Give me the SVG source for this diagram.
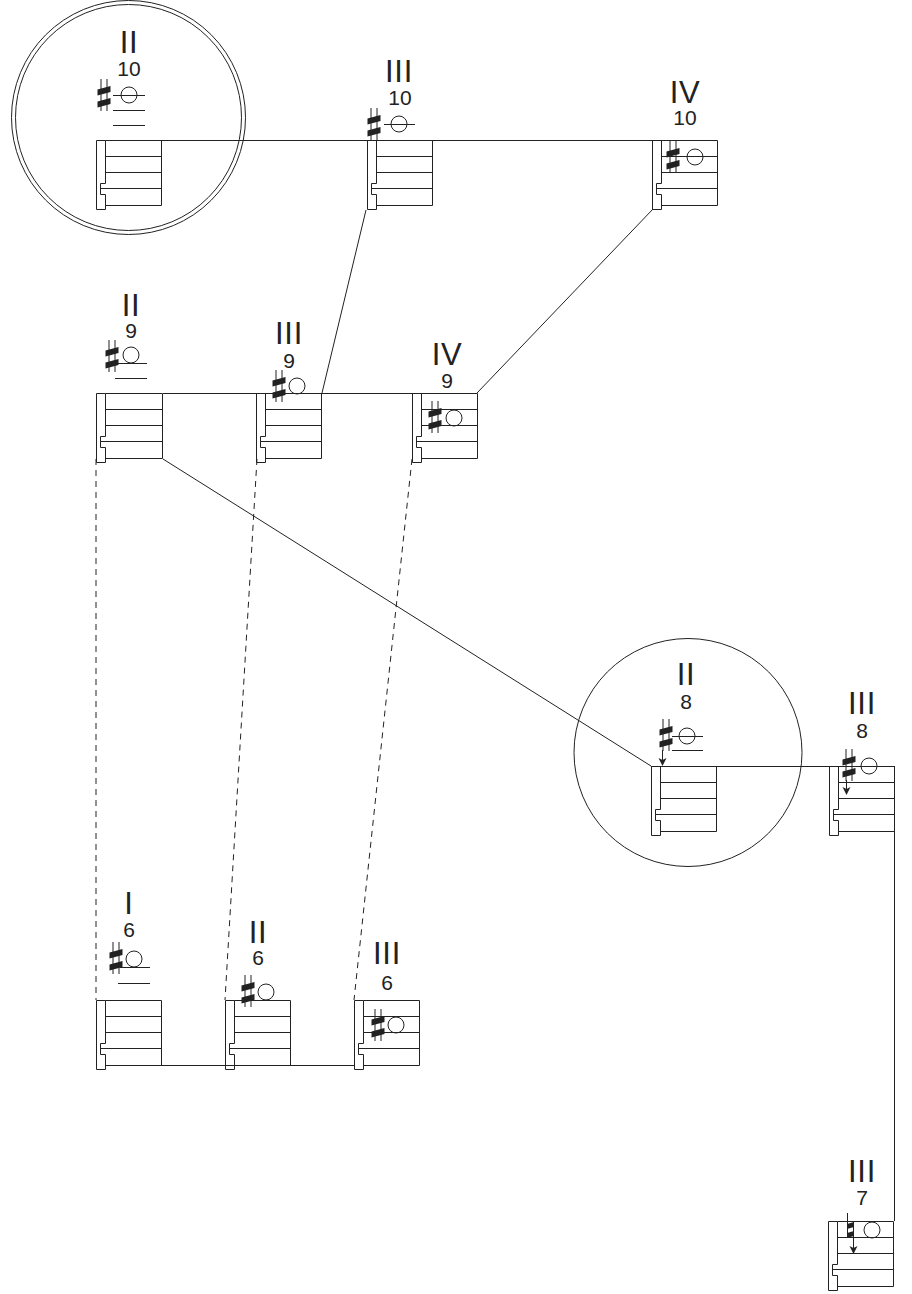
<svg xmlns="http://www.w3.org/2000/svg" width="912" height="1294" viewBox="0 0 912 1294">
<style>
.l{fill:none;stroke:#222;stroke-width:1}
.d{fill:none;stroke:#222;stroke-width:1;stroke-dasharray:6 5}
.b{fill:#222;stroke:none}
text{font-family:"Liberation Sans",Arial,sans-serif;fill:#222;text-anchor:middle}
.r{font-size:31px;letter-spacing:.7px}
.o{font-size:21px}
</style>
<defs>
<g id="staff"><path class="l" d="M9.500 .5H65.500V65.500H9.500M9.500 16.500H65.500M9.500 32.500H65.500M4.500 48.500H65.500M.5 .5H9.500V43.500H4.500V54.500H9.500V69.500H.5Z"/></g>
<g id="staff-wide"><path class="l" d="M9.500 .5H66.500V65.500H9.500M9.500 16.500H66.500M9.500 32.500H66.500M4.500 48.500H66.500M.5 .5H9.500V43.500H4.500V54.500H9.500V69.500H.5Z"/></g>
<g id="sharp"><path class="l" d="M-3 -16V16M3 -16V16"/><path class="b" d="M-6.500 -5.500L6.500 -9V-3L-6.500 .5ZM-6.500 6.500L6.500 3V9L-6.500 12.500Z"/></g>
<path id="arrow" class="b" d="M0 0L-4 -8L0 -6L4 -8Z"/>
</defs>
<g id="connectors">
<path class="l" d="M161 140.500H717M163 393.500H477M366 210L322 393M653 209L477 393M163 459L651 766M651 766.500H895M894.500 766V1221M161 1065.500H354"/>
<path class="d" d="M96 459L96 1000M257 459L225 1000M412 459L354 1000"/>
<circle class="l" cx="128.500" cy="117.500" r="117"/><circle class="l" cx="128.500" cy="117.500" r="113"/>
<circle class="l" cx="688" cy="752.500" r="114"/>
</g>
<g id="n-ii-10"><use href="#staff" x="96" y="140"/><text class="r" x="129" y="53">II</text><text class="o" x="129" y="76">10</text><use href="#sharp" x="104" y="95"/><circle class="l" cx="129" cy="95" r="8"/><path class="l" d="M113 95.500H145M113 110.500H145M113 125.500H145"/></g>
<g id="n-iii-10"><use href="#staff" x="367" y="140"/><text class="r" x="399" y="82">III</text><text class="o" x="400" y="105">10</text><use href="#sharp" x="374" y="124"/><circle class="l" cx="399" cy="124" r="8"/><path class="l" d="M384 124.500H415"/></g>
<g id="n-iv-10"><use href="#staff" x="652" y="140"/><text class="r" x="685" y="103">IV</text><text class="o" x="685" y="125">10</text><use href="#sharp" x="673" y="157"/><circle class="l" cx="695" cy="157" r="8"/></g>
<g id="n-ii-9"><use href="#staff-wide" x="96" y="393"/><text class="r" x="131" y="316">II</text><text class="o" x="131" y="338">9</text><use href="#sharp" x="112" y="356"/><circle class="l" cx="131" cy="355" r="8"/><path class="l" d="M115 363.500H147M115 378.500H147"/></g>
<g id="n-iii-9"><use href="#staff" x="256" y="393"/><text class="r" x="289" y="344">III</text><text class="o" x="289" y="368">9</text><use href="#sharp" x="279" y="386"/><circle class="l" cx="297" cy="386" r="8"/></g>
<g id="n-iv-9"><use href="#staff" x="412" y="393"/><text class="r" x="447" y="365">IV</text><text class="o" x="447" y="388">9</text><use href="#sharp" x="435" y="417"/><circle class="l" cx="454" cy="418" r="8"/></g>
<g id="n-ii-8"><use href="#staff" x="651" y="766"/><text class="r" x="686" y="685">II</text><text class="o" x="686" y="709">8</text><use href="#sharp" x="666" y="735"/><path class="l" d="M662.500 750V762"/><use href="#arrow" x="662.500" y="766"/><circle class="l" cx="687" cy="736" r="8"/><path class="l" d="M672 736.500H703M672 750.500H703"/></g>
<g id="n-iii-8"><use href="#staff" x="829" y="766"/><text class="r" x="862" y="714">III</text><text class="o" x="862" y="738">8</text><use href="#sharp" x="849" y="765"/><path class="l" d="M846.500 780V791"/><use href="#arrow" x="846.500" y="795"/><circle class="l" cx="869" cy="766" r="8"/></g>
<g id="n-iii-7"><use href="#staff" x="828" y="1221"/><text class="r" x="862" y="1182">III</text><text class="o" x="862" y="1205">7</text><path class="l" d="M847.500 1213V1237M853.500 1222V1250"/><path class="b" d="M847 1224L854 1222V1227L847 1229ZM847 1233L854 1231V1236L847 1238Z"/><use href="#arrow" x="853.500" y="1254"/><circle class="l" cx="872" cy="1230" r="8"/></g>
<g id="n-i-6"><use href="#staff" x="96" y="1000"/><text class="r" x="129" y="914">I</text><text class="o" x="129" y="937">6</text><use href="#sharp" x="116" y="958"/><circle class="l" cx="134" cy="959" r="8"/><path class="l" d="M120 967.500H150M118 983.500H150"/></g>
<g id="n-ii-6"><use href="#staff" x="225" y="1000"/><text class="r" x="258" y="943">II</text><text class="o" x="258" y="965">6</text><use href="#sharp" x="248" y="991"/><circle class="l" cx="266" cy="992" r="8"/></g>
<g id="n-iii-6"><use href="#staff" x="354" y="1000"/><text class="r" x="387" y="964">III</text><text class="o" x="387" y="990">6</text><use href="#sharp" x="378" y="1025"/><circle class="l" cx="396" cy="1025" r="8"/></g>
</svg>
